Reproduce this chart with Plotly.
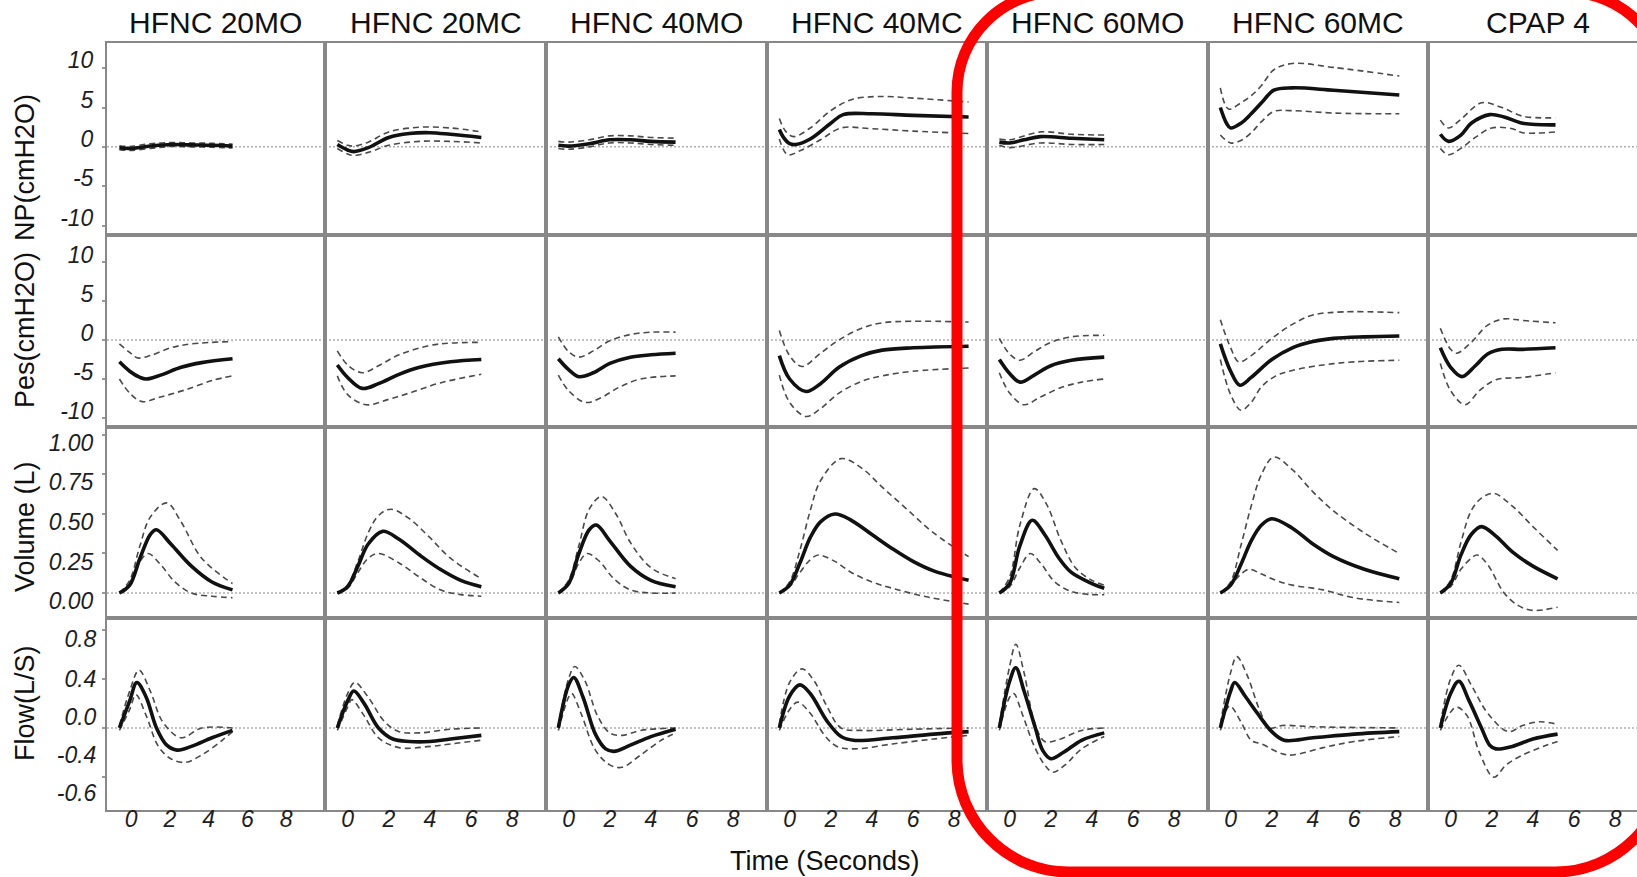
import plotly.graph_objects as go

W, H = 1637, 877

# ---------------- labels / ticks ----------------
COLUMNS = ["HFNC 20MO", "HFNC 20MC", "HFNC 40MO", "HFNC 40MC", "HFNC 60MO", "HFNC 60MC", "CPAP 4"]
ROW_TITLES = ["NP(cmH2O)", "Pes(cmH2O)", "Volume (L)", "Flow(L/S)"]
X_TITLE = "Time (Seconds)"
X_TICKS = [0, 2, 4, 6, 8]
NP_TICKS = [10, 5, 0, -5, -10]
PES_TICKS = [10, 5, 0, -5, -10]
VOL_TICKS = [1.0, 0.75, 0.5, 0.25, 0.0]
VOL_TICK_TEXT = ["1.00", "0.75", "0.50", "0.25", "0.00"]
FLOW_TICK_TEXT = ["0.8", "0.4", "0.0", "-0.4", "-0.6"]
FLOW_TICK_MARKS = [0.8, 0.4, 0.0, -0.4]

# ---------------- data: (time s, value) ----------------
# NP (cmH2O)
NP_20MO = dict(
    mean=[(-0.6, -0.1), (-0.07, -0.2), (0.99, 0.1), (2.05, 0.3), (3.11, 0.25), (4.17, 0.2), (5.23, 0.1)],
    hi=[(-0.6, 0.15), (-0.07, 0.05), (0.99, 0.4), (2.05, 0.55), (3.11, 0.5), (4.17, 0.45), (5.23, 0.35)],
    lo=[(-0.6, -0.35), (-0.07, -0.45), (0.99, -0.2), (2.05, 0.05), (3.11, 0.0), (4.17, -0.05), (5.23, -0.15)])
NP_20MC = dict(
    mean=[(-0.5, 0.3), (0, -0.4), (0.3, -0.6), (1, -0.1), (2, 1.2), (3, 1.7), (4, 1.8), (5, 1.6), (6.5, 1.2)],
    hi=[(-0.5, 0.8), (0, 0.2), (0.3, 0.1), (1, 0.6), (2, 1.9), (3.5, 2.5), (5, 2.4), (6.5, 1.9)],
    lo=[(-0.5, -0.2), (0, -0.9), (0.3, -1.1), (1, -0.7), (2, 0.2), (3.5, 0.7), (5, 0.7), (6.5, 0.5)])
NP_40MO = dict(
    mean=[(-0.5, 0.2), (0, 0.1), (1, 0.4), (2, 0.9), (3, 0.9), (4, 0.7), (5.2, 0.6)],
    hi=[(-0.5, 0.7), (0, 0.6), (1, 0.9), (2, 1.4), (3, 1.4), (4, 1.2), (5.2, 1.1)],
    lo=[(-0.5, -0.2), (0, -0.3), (1, 0.0), (2, 0.5), (3, 0.5), (4, 0.3), (5.2, 0.2)])
NP_40MC = dict(
    mean=[(-0.5, 2.2), (-0.3, 1.2), (0, 0.4), (0.3, 0.3), (1, 1.0), (2, 3.0), (2.6, 4.1), (4, 4.2), (6, 4.0), (8.7, 3.8)],
    hi=[(-0.5, 3.6), (-0.2, 2.0), (0.2, 1.3), (1, 2.4), (2, 4.6), (3, 6.0), (4.3, 6.4), (6, 6.2), (8.7, 5.7)],
    lo=[(-0.5, 1.0), (-0.1, -1.0), (0.5, -0.5), (1.5, 0.9), (2.5, 2.4), (4, 2.3), (6, 2.0), (8.7, 1.7)])
NP_60MO = dict(
    mean=[(-0.5, 0.6), (0, 0.5), (0.7, 0.9), (1.5, 1.3), (3, 1.1), (4.6, 0.9)],
    hi=[(-0.5, 1.0), (0, 0.9), (1.5, 1.9), (3, 1.6), (4.6, 1.5)],
    lo=[(-0.5, 0.2), (0, -0.1), (1.5, 0.5), (3, 0.3), (4.6, 0.3)])
NP_60MC = dict(
    mean=[(-0.5, 5.0), (-0.2, 3.0), (0, 2.4), (0.5, 3.0), (1, 4.2), (1.5, 5.6), (2.1, 7.2), (3, 7.5), (5, 7.2), (8.2, 6.6)],
    hi=[(-0.5, 7.5), (-0.1, 4.8), (0.5, 5.6), (1, 6.5), (1.5, 7.8), (2.1, 9.8), (3, 10.6), (5, 10.1), (8.2, 9.0)],
    lo=[(-0.5, 1.5), (0, 0.5), (0.5, 0.8), (1, 1.8), (1.5, 3.2), (2.1, 4.5), (3, 4.6), (5, 4.3), (8.2, 4.2)])
NP_CPAP4 = dict(
    mean=[(-0.5, 1.6), (-0.1, 0.7), (0.5, 1.5), (1, 3.0), (1.9, 4.1), (2.6, 3.8), (3.5, 3.0), (5.1, 2.8)],
    hi=[(-0.5, 3.4), (-0.1, 2.4), (0.5, 3.5), (1.5, 5.6), (2.5, 5.0), (3.5, 3.9), (5.1, 3.7)],
    lo=[(-0.5, -0.2), (-0.1, -1.0), (0.5, -0.2), (1.2, 1.2), (2, 2.4), (3, 2.3), (3.5, 1.8), (5.1, 1.9)])

# Pes (cmH2O)
PES_20MO = dict(
    mean=[(-0.6, -2.8), (-0.07, -4.0), (0.46, -4.8), (0.78, -5.0), (1.52, -4.5), (2.58, -3.5), (3.64, -2.9), (5.23, -2.4)],
    hi=[(-0.6, -0.5), (-0.07, -1.6), (0.35, -2.3), (0.99, -2.0), (2.05, -1.0), (3.11, -0.5), (5.23, -0.2)],
    lo=[(-0.6, -5.0), (-0.07, -6.8), (0.57, -7.9), (1.52, -7.3), (2.79, -6.4), (4.17, -5.2), (5.23, -4.6)])
PES_20MC = dict(
    mean=[(-0.5, -3.2), (0, -4.8), (0.7, -6.2), (1.5, -5.6), (2.5, -4.4), (3.5, -3.5), (5, -2.8), (6.5, -2.5)],
    hi=[(-0.5, -1.4), (0, -3.2), (0.7, -4.2), (1.5, -3.3), (2.5, -1.9), (4, -0.7), (5, -0.4), (6.5, -0.3)],
    lo=[(-0.5, -4.6), (0, -7.0), (0.9, -8.3), (2, -7.6), (3, -6.8), (4.5, -5.5), (6.5, -4.4)])
PES_40MO = dict(
    mean=[(-0.5, -2.4), (0, -3.8), (0.5, -4.7), (1.2, -4.2), (2, -3.0), (3, -2.2), (4, -1.9), (5.2, -1.7)],
    hi=[(-0.5, 0.4), (0, -1.5), (0.5, -2.2), (1.2, -1.4), (2, -0.1), (3, 0.7), (4, 1.0), (5.2, 1.0)],
    lo=[(-0.5, -4.5), (0, -6.5), (0.8, -8.0), (1.5, -7.5), (2.5, -6.0), (3.5, -5.0), (5.2, -4.6)])
PES_40MC = dict(
    mean=[(-0.5, -2.0), (0, -5.0), (0.8, -6.6), (1.5, -5.6), (2.4, -3.5), (3.5, -2.0), (4.5, -1.3), (6, -1.0), (8.7, -0.8)],
    hi=[(-0.5, 1.2), (0, -2.0), (0.6, -3.4), (1.5, -1.7), (2.4, 0.0), (3.5, 1.5), (4.5, 2.2), (6, 2.4), (8.7, 2.3)],
    lo=[(-0.5, -4.5), (0, -8.0), (0.8, -9.8), (1.5, -8.8), (2.4, -6.8), (3.5, -5.3), (4.5, -4.6), (6, -4.0), (8.7, -3.6)])
PES_60MO = dict(
    mean=[(-0.5, -2.5), (0, -4.3), (0.5, -5.4), (1.2, -4.5), (2, -3.3), (3, -2.6), (4.6, -2.2)],
    hi=[(-0.5, 0.2), (0, -1.8), (0.5, -2.6), (1.2, -1.5), (2, -0.3), (3, 0.4), (4.6, 0.6)],
    lo=[(-0.5, -4.2), (0, -6.8), (0.7, -8.3), (1.5, -7.3), (2.5, -6.1), (3.5, -5.4), (4.6, -5.0)])
PES_60MC = dict(
    mean=[(-0.5, -0.5), (0, -4.0), (0.45, -5.8), (1, -4.8), (2, -2.5), (3, -1.0), (4, -0.2), (5, 0.2), (6.5, 0.4), (8.2, 0.5)],
    hi=[(-0.5, 2.6), (0, -1.0), (0.4, -2.8), (1, -2.0), (2, 0.2), (3, 2.0), (4, 3.2), (5.5, 3.6), (8.2, 3.5)],
    lo=[(-0.5, -2.5), (0, -7.0), (0.5, -9.0), (1, -8.0), (1.5, -6.0), (2.2, -4.6), (3, -3.9), (4.5, -3.2), (6, -2.8), (8.2, -2.6)])
PES_CPAP4 = dict(
    mean=[(-0.5, -1.0), (0, -3.5), (0.55, -4.7), (1.2, -3.3), (1.8, -1.8), (2.5, -1.2), (3.5, -1.2), (5.1, -1.0)],
    hi=[(-0.5, 1.5), (0, -1.2), (0.3, -1.7), (1, -0.3), (1.8, 1.9), (2.6, 2.7), (3.5, 2.5), (5.1, 2.2)],
    lo=[(-0.5, -3.0), (0, -6.5), (0.7, -8.3), (1.4, -6.5), (2.2, -5.1), (3.5, -4.8), (5.1, -4.2)])

# Volume (L)
VOL_20MO = dict(
    mean=[(-0.6, 0.0), (-0.07, 0.05), (0.46, 0.22), (0.99, 0.37), (1.31, 0.40), (2.05, 0.31), (3.11, 0.17), (4.17, 0.07), (5.23, 0.02)],
    hi=[(-0.6, 0.0), (-0.07, 0.08), (0.46, 0.3), (0.99, 0.48), (1.84, 0.57), (2.58, 0.45), (3.64, 0.22), (5.23, 0.06)],
    lo=[(-0.6, 0.0), (-0.07, 0.05), (0.46, 0.2), (0.88, 0.25), (1.52, 0.18), (2.26, 0.07), (3.11, 0.0), (4.17, -0.02), (5.23, -0.03)])
VOL_20MC = dict(
    mean=[(-0.5, 0.0), (0, 0.04), (0.5, 0.17), (1.0, 0.31), (1.7, 0.39), (2.5, 0.34), (3.5, 0.24), (4.5, 0.15), (5.5, 0.08), (6.5, 0.04)],
    hi=[(-0.5, 0.0), (0, 0.05), (0.5, 0.2), (1.0, 0.38), (1.5, 0.49), (2.1, 0.53), (3, 0.47), (4, 0.35), (5, 0.22), (6.5, 0.09)],
    lo=[(-0.5, 0.0), (0, 0.03), (0.5, 0.13), (1.0, 0.22), (1.5, 0.25), (2.5, 0.19), (3.5, 0.1), (4.5, 0.02), (5.5, -0.01), (6.5, -0.02)])
VOL_40MO = dict(
    mean=[(-0.5, 0.0), (0, 0.06), (0.5, 0.25), (1.0, 0.40), (1.35, 0.43), (2, 0.33), (3, 0.17), (4, 0.08), (5.2, 0.04)],
    hi=[(-0.5, 0.0), (0, 0.08), (0.5, 0.3), (1.0, 0.53), (1.6, 0.61), (2.3, 0.5), (3, 0.32), (4, 0.16), (5.2, 0.09)],
    lo=[(-0.5, 0.0), (0, 0.05), (0.5, 0.19), (0.9, 0.25), (1.5, 0.2), (2.2, 0.09), (3, 0.02), (4, 0.0), (5.2, 0.0)])
VOL_40MC = dict(
    mean=[(-0.5, 0.0), (0, 0.05), (0.5, 0.19), (1.0, 0.35), (1.5, 0.45), (2.2, 0.50), (3, 0.46), (4, 0.37), (5, 0.28), (6, 0.2), (7, 0.14), (8.7, 0.08)],
    hi=[(-0.5, 0.0), (0, 0.07), (0.5, 0.27), (1.0, 0.52), (1.5, 0.71), (2.5, 0.85), (3.5, 0.79), (4.5, 0.67), (5.7, 0.53), (7, 0.38), (8.7, 0.23)],
    lo=[(-0.5, 0.0), (0, 0.04), (0.5, 0.13), (1.0, 0.21), (1.4, 0.24), (2.2, 0.2), (3, 0.13), (4, 0.07), (5, 0.03), (6.5, -0.02), (8.7, -0.07)])
VOL_60MO = dict(
    mean=[(-0.5, 0.0), (0, 0.06), (0.5, 0.3), (1.1, 0.46), (1.7, 0.37), (2.4, 0.22), (3, 0.13), (4, 0.06), (4.6, 0.03)],
    hi=[(-0.5, 0.0), (0, 0.1), (0.5, 0.43), (1.2, 0.66), (1.8, 0.56), (2.5, 0.33), (3.2, 0.16), (4, 0.08), (4.6, 0.05)],
    lo=[(-0.5, 0.0), (0, 0.04), (0.5, 0.16), (1.0, 0.25), (1.5, 0.19), (2.2, 0.07), (3, 0.01), (4, -0.01), (4.6, -0.01)])
VOL_60MC = dict(
    mean=[(-0.5, 0.0), (0, 0.05), (0.5, 0.18), (1.0, 0.33), (1.5, 0.43), (2.0, 0.47), (3, 0.41), (4, 0.31), (5, 0.23), (6.5, 0.15), (8.2, 0.09)],
    hi=[(-0.5, 0.0), (0, 0.07), (0.5, 0.3), (1.0, 0.55), (1.5, 0.75), (2.1, 0.86), (3, 0.78), (4, 0.64), (5, 0.52), (6.5, 0.38), (8.2, 0.25)],
    lo=[(-0.5, 0.0), (0, 0.05), (0.5, 0.12), (0.9, 0.15), (1.5, 0.12), (2.2, 0.08), (3, 0.05), (4.5, 0.02), (6, -0.03), (8.2, -0.06)])
VOL_CPAP4 = dict(
    mean=[(-0.5, 0.0), (0, 0.06), (0.5, 0.24), (1.0, 0.37), (1.5, 0.42), (2.2, 0.36), (3, 0.26), (4, 0.17), (5.2, 0.09)],
    hi=[(-0.5, 0.0), (0, 0.08), (0.5, 0.32), (1.0, 0.52), (1.5, 0.6), (2.1, 0.63), (3, 0.55), (4, 0.42), (5.2, 0.27)],
    lo=[(-0.5, 0.0), (0, 0.04), (0.5, 0.15), (1.0, 0.22), (1.3, 0.24), (1.8, 0.18), (2.6, 0.0), (3.3, -0.08), (4, -0.11), (5.2, -0.09)])

# Flow (L/S)
FLOW_20MO = dict(
    mean=[(-0.6, 0.0), (-0.07, 0.22), (0.3, 0.37), (0.78, 0.25), (1.31, 0.0), (1.84, -0.14), (2.37, -0.18), (3.11, -0.15), (4.17, -0.08), (5.23, -0.02)],
    hi=[(-0.6, 0.02), (-0.07, 0.3), (0.41, 0.47), (0.99, 0.3), (1.63, 0.05), (2.58, -0.08), (3.64, 0.0), (5.23, 0.0)],
    lo=[(-0.6, -0.02), (-0.07, 0.15), (0.25, 0.27), (0.78, 0.1), (1.41, -0.15), (2.05, -0.25), (2.79, -0.28), (3.64, -0.22), (4.7, -0.1), (5.23, -0.03)])
FLOW_20MC = dict(
    mean=[(-0.5, 0.0), (0, 0.22), (0.3, 0.30), (0.8, 0.2), (1.5, 0.0), (2.2, -0.09), (3, -0.11), (4, -0.11), (5, -0.09), (6.5, -0.06)],
    hi=[(-0.5, 0.02), (0, 0.28), (0.35, 0.37), (1.0, 0.25), (1.8, 0.05), (2.5, -0.03), (3.5, -0.04), (5, -0.01), (6.5, 0.0)],
    lo=[(-0.5, -0.02), (0, 0.17), (0.2, 0.23), (0.8, 0.1), (1.5, -0.08), (2.5, -0.16), (4, -0.15), (5, -0.13), (6.5, -0.1)])
FLOW_40MO = dict(
    mean=[(-0.5, 0.0), (0, 0.35), (0.25, 0.41), (0.7, 0.25), (1.3, -0.05), (1.8, -0.17), (2.2, -0.19), (3, -0.14), (4, -0.07), (5.2, -0.01)],
    hi=[(-0.5, 0.02), (0, 0.4), (0.3, 0.5), (0.8, 0.38), (1.4, 0.1), (2, -0.04), (2.6, -0.06), (3.5, -0.02), (5.2, 0.0)],
    lo=[(-0.5, -0.02), (0, 0.25), (0.15, 0.28), (0.6, 0.12), (1.3, -0.18), (2, -0.3), (2.6, -0.32), (3.5, -0.22), (4.5, -0.1), (5.2, -0.04)])
FLOW_40MC = dict(
    mean=[(-0.5, 0.0), (0, 0.26), (0.5, 0.35), (1.0, 0.28), (1.8, 0.06), (2.5, -0.07), (3.1, -0.1), (5, -0.08), (7, -0.05), (8.7, -0.03)],
    hi=[(-0.5, 0.03), (0, 0.37), (0.6, 0.48), (1.2, 0.38), (1.8, 0.18), (2.5, 0.0), (3.5, -0.02), (6, -0.01), (8.7, 0.0)],
    lo=[(-0.5, -0.02), (0, 0.15), (0.4, 0.21), (1.0, 0.12), (1.7, -0.06), (2.3, -0.15), (3.2, -0.17), (5, -0.13), (7, -0.09), (8.7, -0.06)])
FLOW_60MO = dict(
    mean=[(-0.5, 0.0), (0, 0.38), (0.3, 0.49), (0.7, 0.3), (1.25, 0.0), (1.6, -0.18), (2.0, -0.25), (2.6, -0.2), (3.5, -0.1), (4.6, -0.04)],
    hi=[(-0.5, 0.03), (0, 0.5), (0.3, 0.68), (0.7, 0.45), (1.2, 0.05), (1.7, -0.11), (2.3, -0.1), (3.5, -0.02), (4.6, 0.0)],
    lo=[(-0.5, -0.02), (0, 0.25), (0.2, 0.28), (0.6, 0.12), (1.2, -0.15), (1.7, -0.3), (2.1, -0.36), (2.7, -0.3), (3.5, -0.17), (4.6, -0.07)])
FLOW_60MC = dict(
    mean=[(-0.5, 0.0), (0, 0.3), (0.2, 0.37), (0.7, 0.26), (1.3, 0.12), (2, -0.03), (2.6, -0.1), (4, -0.08), (6, -0.05), (8.2, -0.03)],
    hi=[(-0.5, 0.03), (0, 0.45), (0.3, 0.58), (0.8, 0.43), (1.4, 0.15), (1.9, 0.0), (2.5, 0.02), (4, 0.01), (8.2, 0.0)],
    lo=[(-0.5, -0.02), (-0.05, 0.18), (0.5, 0.05), (1.0, -0.1), (1.5, -0.13), (2.5, -0.21), (3, -0.22), (4.5, -0.16), (6, -0.11), (8.2, -0.07)])
FLOW_CPAP4 = dict(
    mean=[(-0.5, 0.0), (0, 0.28), (0.4, 0.38), (0.9, 0.22), (1.5, 0.0), (1.9, -0.14), (2.2, -0.17), (3, -0.15), (4, -0.09), (5.2, -0.05)],
    hi=[(-0.5, 0.03), (0, 0.4), (0.4, 0.51), (1.0, 0.35), (1.8, 0.12), (2.8, -0.03), (3.5, 0.02), (4.3, 0.05), (5.2, 0.03)],
    lo=[(-0.5, -0.02), (0, 0.13), (0.3, 0.17), (0.8, 0.1), (1.4, -0.2), (2.1, -0.4), (2.7, -0.3), (3.5, -0.22), (4.5, -0.15), (5.2, -0.11)])

GRID = [
    [NP_20MO, NP_20MC, NP_40MO, NP_40MC, NP_60MO, NP_60MC, NP_CPAP4],
    [PES_20MO, PES_20MC, PES_40MO, PES_40MC, PES_60MO, PES_60MC, PES_CPAP4],
    [VOL_20MO, VOL_20MC, VOL_40MO, VOL_40MC, VOL_60MO, VOL_60MC, VOL_CPAP4],
    [FLOW_20MO, FLOW_20MC, FLOW_40MO, FLOW_40MC, FLOW_60MO, FLOW_60MC, FLOW_CPAP4],
]

# ---------------- layout geometry (pixels) ----------------
COL_EDGES = [107, 325, 546, 767, 987, 1208, 1428, 1648]
ROW_EDGES = [43, 235, 427, 618, 810]
PX_PER_SEC = [19.4, 20.57, 20.57, 20.57, 20.57, 20.57, 20.57]
X0 = [-1.24, -1.1, -1.1, -1.1, -1.1, -1.1, -1.1]
Y_RANGES = [(-11.2, 13.2), (-11.15, 13.45), (-0.158, 1.05), (-0.667, 0.894)]

FONT = "Liberation Sans, Arial, Helvetica, sans-serif"
BORDER = "#888888"

fig = go.Figure()
shapes = []
annotations = []
layout = {}

for r in range(4):
    for c in range(7):
        k = r * 7 + c + 1
        xa = "x" if k == 1 else f"x{k}"
        ya = "y" if k == 1 else f"y{k}"
        panel = GRID[r][c]
        for key in ("hi", "lo"):
            pts = panel[key]
            fig.add_trace(go.Scatter(
                x=[p[0] for p in pts], y=[p[1] for p in pts], mode="lines",
                line=dict(color="#4a4a4a", width=1.6, dash="6px,4px", shape="spline", smoothing=1.0),
                xaxis=xa, yaxis=ya, showlegend=False, hoverinfo="skip"))
        pts = panel["mean"]
        fig.add_trace(go.Scatter(
            x=[p[0] for p in pts], y=[p[1] for p in pts], mode="lines",
            line=dict(color="#111111", width=3.6, shape="spline", smoothing=1.0),
            xaxis=xa, yaxis=ya, showlegend=False, hoverinfo="skip"))

        left, right = COL_EDGES[c], min(COL_EDGES[c + 1], W)
        top, bottom = ROW_EDGES[r], ROW_EDGES[r + 1]
        xr = [X0[c], X0[c] + (right - left) / PX_PER_SEC[c]]
        xkey = "xaxis" if k == 1 else f"xaxis{k}"
        ykey = "yaxis" if k == 1 else f"yaxis{k}"
        layout[xkey] = dict(
            domain=[left / W, right / W], anchor=ya, range=xr, automargin=False,
            showline=True, linewidth=2, linecolor=BORDER, mirror=True,
            showgrid=False, zeroline=False, ticks="",
            tickmode="array", tickvals=X_TICKS, ticktext=[str(v) for v in X_TICKS],
            showticklabels=(r == 3), ticklabelstandoff=-13,
            tickfont=dict(family=FONT, size=23, color="#1e1e1e", style="italic"),
            fixedrange=True)
        yax = dict(
            domain=[1 - bottom / H, 1 - top / H], anchor=xa, range=list(Y_RANGES[r]), automargin=False,
            showline=True, linewidth=2, linecolor=BORDER, mirror=(c < 6),
            showgrid=False, zeroline=False,
            showticklabels=(c == 0),
            tickfont=dict(family=FONT, size=23, color="#1e1e1e", style="italic"),
            ticklabelstandoff=4,
            fixedrange=True)
        if c == 0:
            if r == 0:
                yax.update(tickmode="array", tickvals=NP_TICKS, ticktext=[str(v) for v in NP_TICKS],
                           ticks="outside", ticklen=3, tickwidth=1.5, tickcolor="#999", ticklabelshift=-8)
            elif r == 1:
                yax.update(tickmode="array", tickvals=PES_TICKS, ticktext=[str(v) for v in PES_TICKS],
                           ticks="outside", ticklen=3, tickwidth=1.5, tickcolor="#999", ticklabelshift=-7)
            elif r == 2:
                yax.update(tickmode="array", tickvals=VOL_TICKS, ticktext=VOL_TICK_TEXT,
                           ticks="outside", ticklen=3, tickwidth=1.5, tickcolor="#999", ticklabelshift=8)
            else:
                # labels in the original sit off their tick marks
                label_pos = [0.72, 0.40, 0.09, -0.22, -0.53]
                yax.update(tickmode="array", tickvals=label_pos, ticktext=FLOW_TICK_TEXT,
                           ticks="", minor=dict(tickmode="array", tickvals=FLOW_TICK_MARKS,
                                                ticks="outside", ticklen=3, tickwidth=1.5, tickcolor="#999"))
        else:
            yax.update(ticks="")
        layout[ykey] = yax

        shapes.append(dict(type="line", xref=f"{xa} domain", x0=0, x1=1, yref=ya, y0=0, y1=0,
                           line=dict(color="#b0b0b0", width=1.5, dash="2px,2px"), layer="below"))

# column titles
for c, name in enumerate(COLUMNS):
    cx = (COL_EDGES[c] + COL_EDGES[c + 1]) / 2
    annotations.append(dict(text=name, x=cx / W, y=1 - 23 / H, xref="paper", yref="paper",
                            xanchor="center", yanchor="middle", showarrow=False,
                            font=dict(family=FONT, size=30, color="#111")))
# row titles
ROW_TITLE_Y = [168, 330, 527, 703]
for r, name in enumerate(ROW_TITLES):
    annotations.append(dict(text=name, x=25 / W, y=1 - ROW_TITLE_Y[r] / H, xref="paper", yref="paper",
                            xanchor="center", yanchor="middle", textangle=-90, showarrow=False,
                            font=dict(family=FONT, size=27, color="#111")))
# x title
annotations.append(dict(text=X_TITLE, x=825 / W, y=1 - 861 / H, xref="paper", yref="paper",
                        xanchor="center", yanchor="middle", showarrow=False,
                        font=dict(family=FONT, size=27, color="#111")))

# red rounded highlight rectangle (pixel geometry -> paper)
L, R, T, B = 957, 1667, -8, 872
RT, RB = 100, 112  # top / bottom corner radii
KAPPA = 0.5523


def P(x, y):
    return f"{x / W:.5f},{1 - y / H:.5f}"


path = (
    f"M {P(L, T + RT)} L {P(L, B - RB)} "
    f"C {P(L, B - RB + KAPPA * RB)} {P(L + RB - KAPPA * RB, B)} {P(L + RB, B)} "
    f"L {P(R - RB, B)} "
    f"C {P(R - RB + KAPPA * RB, B)} {P(R, B - RB + KAPPA * RB)} {P(R, B - RB)} "
    f"L {P(R, T + RT)} "
    f"C {P(R, T + RT - KAPPA * RT)} {P(R - RT + KAPPA * RT, T)} {P(R - RT, T)} "
    f"L {P(L + RT, T)} "
    f"C {P(L + RT - KAPPA * RT, T)} {P(L, T + RT - KAPPA * RT)} {P(L, T + RT)} Z"
)
shapes.append(dict(type="path", path=path, xref="paper", yref="paper",
                   line=dict(color="#ff0000", width=11), fillcolor="rgba(0,0,0,0)", layer="above"))

fig.update_layout(
    width=W, height=H, autosize=False,
    margin=dict(l=0, r=0, t=0, b=0, pad=0),
    paper_bgcolor="white", plot_bgcolor="white",
    shapes=shapes, annotations=annotations, showlegend=False,
    **layout)

fig.write_html("out.html", config={"displayModeBar": False})
